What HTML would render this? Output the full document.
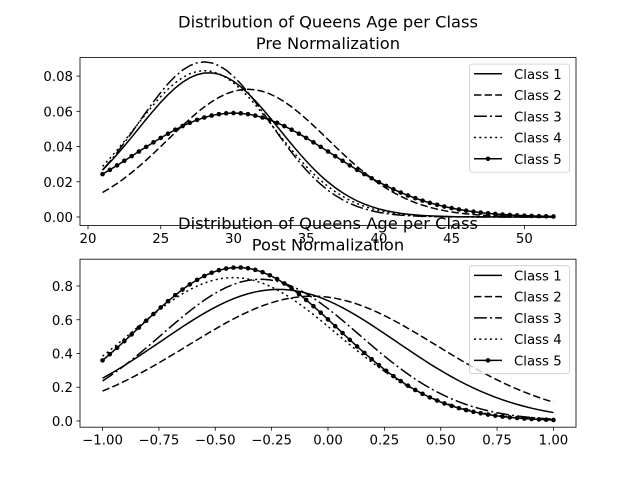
<!DOCTYPE html>
<html><head><meta charset="utf-8"><style>
body{margin:0;background:#fff}
svg{display:block}
text{font-family:"DejaVu Sans","Liberation Sans",sans-serif;fill:#000}
</style></head><body>
<svg id="fig" width="640" height="480" viewBox="0 0 640 480" xmlns="http://www.w3.org/2000/svg">
<rect width="640" height="480" fill="#fff"/>
</svg>
<script>
// Data: estimated Gaussian distribution parameters per class
const classNames = ["Class 1","Class 2","Class 3","Class 4","Class 5"];
const preMeans = [28.3, 31.0, 28.0, 28.0, 30.0];
const preSds = [4.87, 5.5, 4.53, 4.8, 6.76];
const postMeans = [-0.22, -0.07, -0.30, -0.42, -0.40];
const postSds = [0.52, 0.55, 0.44, 0.46, 0.44];
const postPeaks = [0.78, 0.74, 0.84, 0.85, 0.91];
const preXTicks = [20,25,30,35,40,45,50];
const preYTicks = [0.00,0.02,0.04,0.06,0.08];
const postXTicks = [-1.00,-0.75,-0.50,-0.25,0.00,0.25,0.50,0.75,1.00];
const postYTicks = [0.0,0.2,0.4,0.6,0.8];

const NS = "http://www.w3.org/2000/svg";
const svg = document.getElementById('fig');
function mk(tag, attrs, parent){
  const e = document.createElementNS(NS, tag);
  for (const k in attrs) e.setAttribute(k, attrs[k]);
  (parent||svg).appendChild(e);
  return e;
}
const dashes = ["", "7.4,3.2", "12.8,3.2,2,3.2", "2,3.3", ""];
const N = 63;

function panel(cfg){
  const L=80, R=576, T=cfg.top, B=cfg.top+168;
  const sx = v => L + (v-cfg.xmin)/(cfg.xmax-cfg.xmin)*(R-L);
  const sy = v => B - (v-cfg.ymin)/(cfg.ymax-cfg.ymin)*(B-T);
  const g = mk('g', {});
  
  
  const clipId = cfg.name+'-clip';
  const cp = mk('clipPath', {id: clipId}, g);
  mk('rect', {x:L, y:T, width:R-L, height:B-T}, cp);
  for (let c=0;c<5;c++){
    const pts=[];
    for (let i=0;i<N;i++){
      const x = cfg.x0 + (cfg.x1-cfg.x0)*i/(N-1);
      const y = cfg.f(c, x);
      pts.push([sx(x), sy(y)]);
    }
    const d = pts.map((p,i)=>(i?'L':'M')+p[0].toFixed(2)+','+p[1].toFixed(2)).join('');
    const path = mk('path', {d, fill:'none', stroke:'#000', 'stroke-width':1.5, 'clip-path':'url(#'+clipId+')'}, g);
    if (dashes[c]) path.setAttribute('stroke-dasharray', dashes[c]);
    
    
    if (c===4){
      pts.forEach(p=>{
        const m = mk('circle', {cx:p[0], cy:p[1], r:2.3, fill:'#000'}, g);
        
        
      });
    }
  }
  const fr = mk('rect', {x:L, y:T, width:R-L, height:B-T, fill:'none', stroke:'#000', 'stroke-width':0.8}, g);
  
  
  cfg.xt.forEach(v=>{
    const x=sx(v);
    mk('line', {x1:x, x2:x, y1:B, y2:B+3.5, stroke:'#000', 'stroke-width':0.8}, g);
    const t = mk('text', {x:x, y:B+17.5, 'font-size':13.3, 'text-anchor':'middle'}, g);
    t.textContent = cfg.xfmt(v);
    
    
  });
  cfg.yt.forEach(v=>{
    const y=sy(v);
    mk('line', {x1:L-3.5, x2:L, y1:y, y2:y, stroke:'#000', 'stroke-width':0.8}, g);
    const t = mk('text', {x:L-7, y:y+5, 'font-size':13.3, 'text-anchor':'end'}, g);
    t.textContent = cfg.yfmt(v);
    
    
  });
  const lg = mk('g', {}, g);
  
  
  const ly = T+6.5;
  mk('rect', {x:469.5, y:ly, width:100, height:108, rx:2.5, fill:'#fff', 'fill-opacity':0.8, stroke:'#ccc', 'stroke-width':0.8}, lg);
  for (let c=0;c<5;c++){
    const yy = ly+9.7+c*21.25;
    const ent = mk('g', {}, lg);
    
    
    const ln = mk('line', {x1:474, x2:502, y1:yy, y2:yy, stroke:'#000', 'stroke-width':1.5}, ent);
    if (dashes[c]) ln.setAttribute('stroke-dasharray', dashes[c]);
    if (c===4) mk('circle', {cx:488, cy:yy, r:2.3, fill:'#000'}, ent);
    const t = mk('text', {x:514, y:yy+5, 'font-size':13.3}, ent);
    t.textContent = classNames[c];
  }
  const t1 = mk('text', {x:(L+R)/2, y:T-30, 'font-size':16.3, 'text-anchor':'middle'}, g);
  t1.textContent = 'Distribution of Queens Age per Class';
  
  
  const t2 = mk('text', {x:(L+R)/2, y:T-8.5, 'font-size':16.3, 'text-anchor':'middle'}, g);
  t2.textContent = cfg.sub;
  
  
}

panel({name:'pre-normalization-plot', top:57.6, xmin:19.45, xmax:53.55, ymin:-0.0049, ymax:0.0905,
  x0:21, x1:52, xt:preXTicks, yt:preYTicks, sub:'Pre Normalization',
  xfmt:v=>String(v), yfmt:v=>v.toFixed(2),
  f:(c,x)=>{const z=(x-preMeans[c])/preSds[c]; return Math.exp(-0.5*z*z)/(preSds[c]*Math.sqrt(2*Math.PI));}});
panel({name:'post-normalization-plot', top:259.2, xmin:-1.1, xmax:1.1, ymin:-0.037, ymax:0.959,
  x0:-1, x1:1, xt:postXTicks, yt:postYTicks, sub:'Post Normalization',
  xfmt:v=>(v<0?'\u2212':'')+Math.abs(v).toFixed(2), yfmt:v=>v.toFixed(1),
  f:(c,x)=>{const z=(x-postMeans[c])/postSds[c]; return postPeaks[c]*Math.exp(-0.5*z*z);}});
</script>
</body></html>
